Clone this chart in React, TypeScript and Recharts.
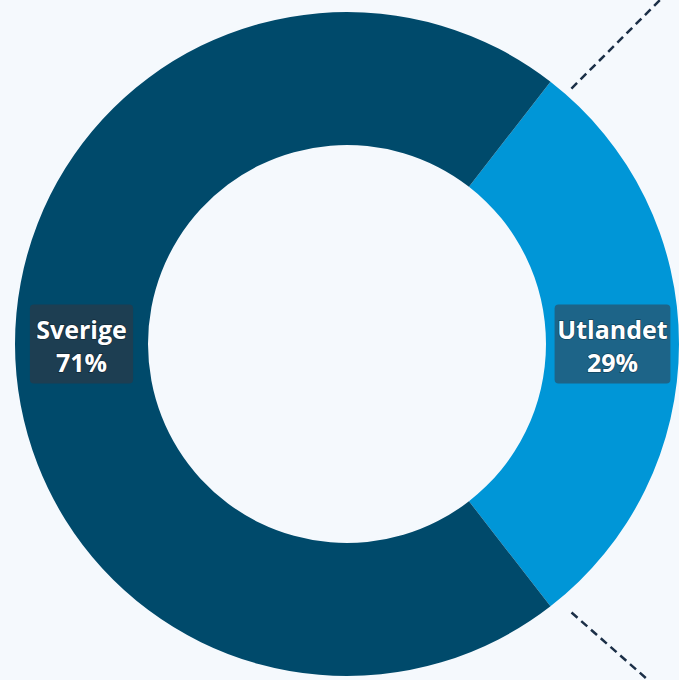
import { PieChart, Pie, Cell, Customized } from 'recharts';

const categories = ['Utlandet', 'Sverige'];
const shares = [29, 71];
const colors = ['#0096d7', '#004a6b'];

const data = categories.map((name, i) => ({ name, value: shares[i] }));

const CX = 347;
const CY = 344;
const OUTER = 332;
const INNER = 199;
const RADIAN = Math.PI / 180;

// first slice centred on the right-hand side
const startAngle = -(shares[0] / 100) * 360 / 2;

const point = (r: number, angle: number) => ({
  x: CX + r * Math.cos(-angle * RADIAN),
  y: CY + r * Math.sin(-angle * RADIAN),
});

// dashed connectors leaving the highlighted slice towards the right
const connectors = [
  { r: 340, angle: 48.7, dir: 45 },
  { r: 350, angle: -50.1, dir: -41.4 },
];

function Connectors() {
  return (
    <g>
      {connectors.map((c, i) => {
        const p = point(c.r, c.angle);
        const len = 160;
        const x2 = p.x + len * Math.cos(-c.dir * RADIAN);
        const y2 = p.y + len * Math.sin(-c.dir * RADIAN);
        return (
          <line
            key={i}
            x1={p.x}
            y1={p.y}
            x2={x2}
            y2={y2}
            stroke="#1b2f47"
            strokeWidth={2.5}
            strokeDasharray="8 5"
          />
        );
      })}
    </g>
  );
}

const renderLabel = (props: any) => {
  const { cx, cy, midAngle, innerRadius, outerRadius, name, value } = props;
  const r = (innerRadius + outerRadius) / 2;
  const x = cx + r * Math.cos(-midAngle * RADIAN);
  const y = cy + r * Math.sin(-midAngle * RADIAN);
  const pct = `${value}%`;
  const w = Math.max(name.length, pct.length) * 12.6 + 15;
  const h = 79;
  return (
    <g>
      <rect
        x={x - w / 2}
        y={y - h / 2}
        width={w}
        height={h}
        rx={4}
        fill="rgba(58,50,58,0.5)"
      />
      {[name, pct].map((t, i) => (
        <text
          key={i}
          x={x}
          y={y + (i === 0 ? -15 : 18)}
          textAnchor="middle"
          dominantBaseline="central"
          fill="#ffffff"
          stroke="rgba(0,0,0,0.35)"
          strokeWidth={1.5}
          paintOrder="stroke"
          fontFamily="'Open Sans', sans-serif"
          fontWeight={700}
          fontSize={25}
        >
          {t}
        </text>
      ))}
    </g>
  );
};

export default function App() {
  return (
    <div
      style={{
        position: 'absolute',
        left: 0,
        top: 0,
        width: 679,
        height: 680,
        background: '#f5f9fd',
        overflow: 'hidden',
      }}
    >
      <PieChart width={679} height={680} margin={{ top: 0, right: 0, bottom: 0, left: 0 }}>
        <Pie
          data={data}
          dataKey="value"
          nameKey="name"
          cx={CX}
          cy={CY}
          innerRadius={INNER}
          outerRadius={OUTER}
          startAngle={startAngle}
          endAngle={startAngle + 360}
          stroke="none"
          label={renderLabel}
          labelLine={false}
          isAnimationActive={false}
        >
          {data.map((d, i) => (
            <Cell key={d.name} fill={colors[i]} />
          ))}
        </Pie>
        <Customized component={<Connectors />} />
      </PieChart>
    </div>
  );
}
